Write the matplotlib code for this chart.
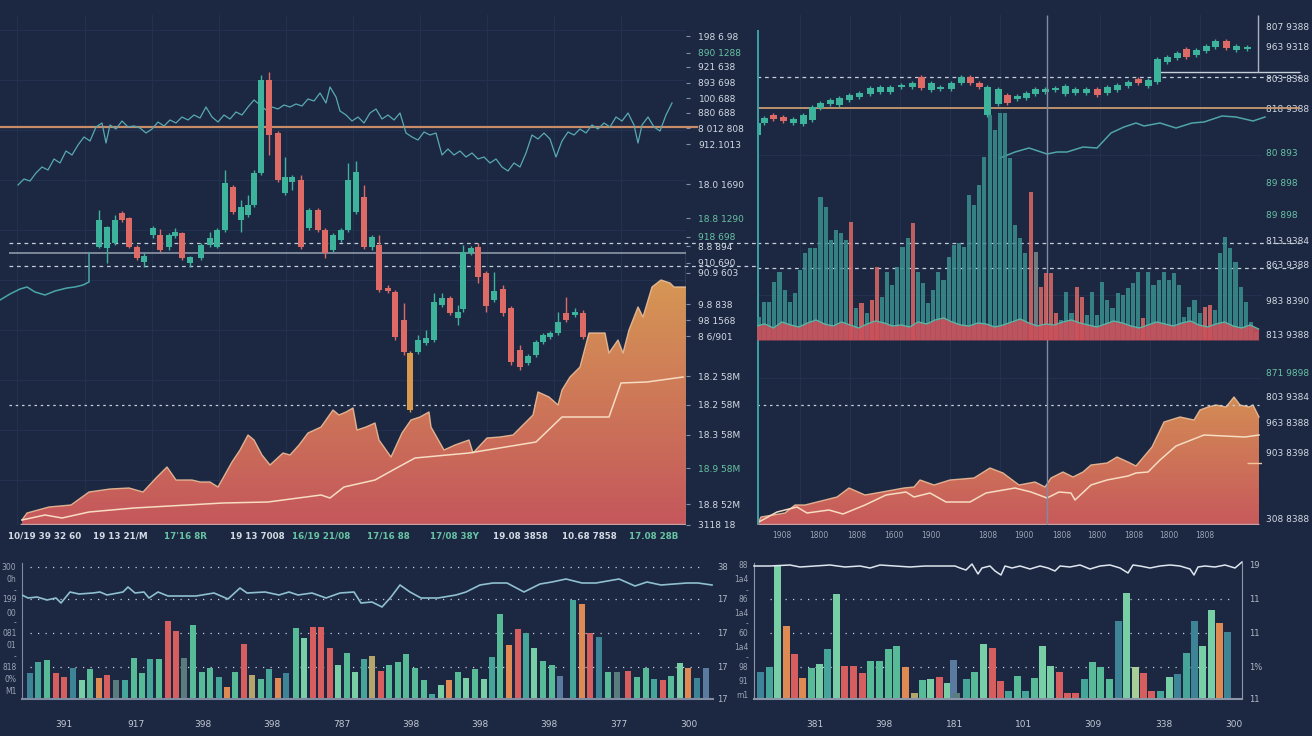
import numpy as np
import matplotlib.pyplot as plt
from matplotlib.colors import LinearSegmentedColormap
from matplotlib.patches import PathPatch

W, H = 1312, 736
BG = '#1c2742'
GRID = '#233150'
TEAL = '#3db39c'
RED = '#de6a66'
ORANGE = '#d99a4e'
TXT = '#d3dae3'
TXT_G = '#67c3a3'
DASH = '#c5cfd9'

plt.rcParams['font.family'] = ['DejaVu Sans']

# ---------------- top-left panel ----------------
tl_line_t = [18, 24, 30, 36, 42, 48, 54, 60, 66, 72, 78, 84, 90, 96, 102, 106, 110, 116, 122, 128,
             134, 140, 146, 152, 158, 164, 170, 176, 182, 188, 194, 200, 206, 212, 218, 224, 230, 236,
             242, 248, 254, 260, 266, 272, 278, 284, 290, 296, 302, 308, 314, 320, 326, 330, 336, 340,
             346, 352, 358, 364, 370, 376, 382, 388, 394, 400, 406, 412, 418, 424, 430, 436, 442, 448,
             454, 460, 466, 472, 478, 484, 490, 496, 502, 508, 514, 520, 526, 532, 538, 544, 550, 556,
             562, 568, 574, 580, 586, 592, 598, 604, 610, 616, 622, 628, 634, 638, 642, 648, 654, 660,
             666, 672]
tl_line_v = [340, 346, 344, 352, 358, 355, 366, 362, 374, 370, 380, 388, 384, 398, 402, 382, 400, 396,
             404, 398, 399, 397, 392, 396, 403, 399, 405, 402, 408, 405, 410, 407, 418, 408, 403, 410,
             406, 413, 410, 418, 425, 420, 415, 418, 416, 420, 418, 421, 419, 426, 424, 432, 422, 438,
             428, 414, 410, 404, 408, 402, 412, 416, 406, 410, 405, 412, 392, 388, 385, 393, 390, 392,
             370, 376, 370, 374, 368, 372, 366, 368, 362, 366, 358, 354, 362, 358, 372, 390, 386, 392,
             386, 368, 384, 393, 390, 396, 392, 400, 396, 402, 398, 408, 404, 412, 400, 382, 400, 408,
             398, 394, 410, 422]

tl_low_t = [0, 10, 20, 27, 35, 45, 55, 67, 75, 83, 89, 89]
tl_low_v = [225, 231, 236, 238, 233, 230, 234, 237, 238, 240, 243, 272]

tl_c_t = [99, 107, 115, 122, 129, 137, 144, 153, 160, 169, 175, 182, 190, 201, 210, 217, 225, 233,
          241, 248, 254, 261, 269, 278, 285, 292, 301, 309, 318, 325, 333, 341, 348, 356, 364, 372,
          379, 388, 395, 404, 410, 418, 426, 434, 442, 450, 458, 463, 471, 478, 486, 494, 503, 511,
          520, 528, 536, 543, 550, 558, 566, 575, 583]
tl_c_open = [278, 277, 282, 312, 307, 278, 263, 290, 290, 278, 289, 292, 262, 267, 280, 278, 295, 338,
             305, 310, 320, 352, 445, 392, 332, 343, 345, 297, 315, 295, 275, 285, 295, 313, 328, 278,
             280, 237, 233, 205, 172, 173, 182, 185, 220, 227, 207, 216, 272, 278, 252, 225, 236, 217,
             175, 162, 170, 183, 188, 192, 212, 210, 212]
tl_c_close = [305, 298, 305, 305, 278, 267, 269, 297, 275, 290, 293, 267, 268, 280, 287, 295, 342, 313,
              318, 320, 352, 445, 390, 345, 348, 348, 278, 315, 295, 272, 290, 295, 345, 353, 278, 288,
              235, 234, 188, 173, 115, 185, 187, 223, 227, 212, 213, 273, 277, 248, 219, 234, 212, 163,
              158, 169, 183, 190, 192, 203, 205, 213, 188]
tl_c_high = [315, 299, 310, 314, 308, 280, 272, 299, 296, 292, 297, 293, 269, 282, 293, 297, 355, 340,
             325, 330, 355, 450, 453, 394, 368, 350, 350, 317, 317, 297, 292, 297, 362, 364, 340, 290,
             290, 240, 235, 222, 174, 190, 195, 232, 232, 229, 220, 280, 279, 282, 254, 253, 240, 219,
             180, 171, 185, 192, 194, 213, 228, 217, 215]
tl_c_low = [277, 262, 280, 303, 277, 265, 258, 287, 273, 275, 287, 265, 258, 265, 278, 277, 293, 311,
            293, 308, 318, 350, 370, 343, 330, 335, 276, 295, 293, 267, 273, 283, 293, 311, 276, 275,
            233, 232, 185, 170, 113, 171, 180, 183, 218, 210, 200, 213, 270, 242, 213, 223, 209, 160,
            155, 160, 168, 181, 186, 190, 203, 208, 186]
tl_special = [40]

tl_area_t = [22, 27, 49, 71, 89, 110, 129, 143, 156, 167, 176, 192, 200, 210, 218, 232, 240, 248, 254,
             262, 270, 283, 290, 299, 308, 321, 333, 339, 346, 353, 357, 366, 375, 379, 391, 402, 411,
             420, 429, 431, 444, 455, 469, 473, 487, 500, 513, 533, 538, 549, 558, 562, 570, 580, 589,
             605, 609, 618, 623, 629, 638, 643, 652, 661, 670, 674, 683, 686]
tl_area_v = [5, 12, 18, 20, 33, 36, 37, 33, 47, 58, 45, 45, 43, 43, 38, 63, 75, 90, 85, 70, 60, 72, 70,
             80, 92, 98, 115, 110, 113, 117, 95, 98, 102, 85, 68, 92, 105, 108, 113, 98, 75, 80, 85, 72,
             87, 88, 90, 110, 133, 128, 120, 135, 148, 158, 192, 192, 172, 185, 172, 195, 218, 208, 238,
             245, 242, 238, 238, 238]
tl_avg_t = [22, 45, 62, 89, 134, 223, 268, 321, 330, 344, 375, 393, 415, 469, 536, 562, 609, 621, 647, 683]
tl_avg_v = [5, 10, 7, 13, 17, 22, 23, 30, 27, 38, 45, 55, 67, 72, 83, 108, 108, 142, 143, 148]

tl_ytick_v = [489, 472, 458, 442, 427, 412, 397, 381, 341, 307, 288, 279, 262, 252, 221, 205, 189,
              149, 120, 90, 57, 21, 0]
tl_ytick_txt = ['198 6.98', '890 1288', '921 638', '893 698', '100.688', '880 688', '8 012 808',
                '912.1013', '18.0 1690', '18.8 1290', '918 698', '8.8 894', '910 690', '90.9 603',
                '9.8 838', '98 1568', '8 6/901', '18.2 58M', '18.2 58M', '18.3 58M', '18.9 58M',
                '18.8 52M', '3118 18']
tl_ytick_green = [1, 9, 10, 20]
tl_xtick_t = [45, 120, 185, 257, 321, 388, 455, 520, 589, 654]
tl_xtick_txt = ['10/19 39 32 60', '19 13 21/M', "17'16 8R", '19 13 7008', '16/19 21/08',
                '17/16 88', '17/08 38Y', '19.08 3858', '10.68 7858', '17.08 28B']
tl_xtick_green = [2, 4, 5, 6, 9]

# ---------------- top-right panel ----------------
tr_c_t = [757, 764, 773, 783, 793, 803, 812, 820, 830, 839, 849, 859, 870, 880, 890, 901, 912, 921,
          931, 940, 951, 961, 970, 979, 987, 998, 1007, 1017, 1026, 1035, 1045, 1055, 1065, 1075,
          1086, 1097, 1107, 1117, 1128, 1138, 1148, 1157, 1167, 1177, 1186, 1196, 1206, 1215, 1226,
          1236, 1247]
tr_c_open = [390, 402, 410, 408, 402, 401, 405, 417, 421, 420, 425, 428, 431, 433, 433, 438, 438, 448,
             435, 436, 436, 442, 448, 442, 410, 421, 430, 426, 427, 431, 433, 435, 431, 432, 432, 436,
             432, 435, 439, 446, 439, 443, 463, 467, 476, 470, 474, 478, 484, 475, 476]
tr_c_close = [402, 407, 406, 404, 406, 410, 418, 422, 425, 427, 430, 432, 437, 438, 438, 440, 442, 437,
              442, 438, 442, 448, 442, 438, 438, 436, 422, 429, 432, 436, 436, 437, 439, 436, 436, 430,
              438, 440, 443, 442, 445, 466, 468, 472, 468, 475, 479, 484, 477, 479, 478]

tr_line_t = [1000, 1015, 1029, 1047, 1057, 1067, 1083, 1097, 1111, 1124, 1136, 1144, 1160, 1176, 1192,
             1204, 1222, 1236, 1253, 1265]
tr_line_v = [367, 373, 377, 371, 373, 373, 378, 377, 392, 398, 402, 399, 402, 397, 402, 403, 409, 408,
             404, 408]

vol_h = [23, 38, 38, 58, 68, 50, 38, 47, 70, 87, 92, 92, 143, 133, 100, 110, 107, 100, 118, 32,
         37, 27, 40, 73, 43, 68, 55, 73, 93, 102, 117, 68, 57, 37, 50, 68, 60, 83, 95, 97,
         93, 145, 135, 155, 183, 225, 210, 227, 227, 182, 115, 102, 87, 148, 88, 53, 67, 67, 27, 20,
         48, 27, 53, 43, 25, 48, 25, 58, 40, 32, 47, 45, 52, 57, 68, 22, 68, 55, 60, 68,
         60, 67, 55, 23, 33, 40, 27, 33, 35, 30, 87, 103, 92, 78, 53, 38, 18, 8]
vol_down = [18, 20, 22, 23, 30, 53, 55, 56, 57, 58, 62, 63, 75, 87, 88]
vol_flat = [54]
vol_band = [14, 16, 12, 18, 15, 13, 17, 20, 16, 14, 18, 15, 12, 16, 19, 17, 14, 15, 13, 18, 16, 20,
            22, 18, 15, 14, 17, 16, 13, 15, 18, 21, 17, 14, 16, 15, 18, 20, 17, 15, 13, 16, 19, 17,
            14, 12, 15, 18, 16, 14, 17, 19, 15, 13, 16, 18, 14, 12, 15, 11]

mr_area_t = [757, 761, 773, 785, 795, 805, 825, 837, 849, 865, 882, 904, 914, 920, 934, 950, 974, 990,
             1003, 1019, 1035, 1045, 1051, 1063, 1073, 1083, 1091, 1107, 1117, 1128, 1136, 1152, 1164,
             1180, 1194, 1200, 1208, 1216, 1226, 1234, 1240, 1249, 1253, 1259]
mr_area_v = [0, 8, 10, 12, 20, 20, 25, 28, 37, 30, 33, 37, 38, 45, 40, 45, 47, 57, 52, 40, 43, 38, 47,
             53, 48, 53, 60, 62, 68, 63, 59, 78, 103, 108, 105, 115, 118, 120, 118, 128, 120, 118, 120, 108]
mr_avg_t = [757, 777, 797, 807, 829, 843, 865, 886, 906, 914, 930, 946, 970, 986, 1015, 1031, 1047,
            1059, 1071, 1075, 1091, 1107, 1128, 1136, 1148, 1160, 1176, 1204, 1224, 1245, 1259]
mr_avg_v = [2, 13, 18, 12, 15, 11, 20, 30, 33, 28, 32, 23, 23, 32, 37, 33, 27, 33, 32, 25, 40, 45, 49,
            52, 53, 65, 79, 90, 89, 88, 90]

tr_ytick_v = [499, 479, 447, 417, 373, 342, 311, 284, 260, 225, 190, 153, 128, 102, 72, 7]
tr_ytick_txt = ['807 9388', '963 9318', '803 8388', '818 9388', '80 893', '89 898', '89 898',
                '813 9384', '863 9388', '983 8390', '813 9388', '871 9898', '803 9384', '963 8388',
                '903 8398', '308 8388']
tr_ytick_green = [4, 5, 6, 11]
tr_xtick_t = [782, 819, 857, 894, 931, 988, 1024, 1062, 1097, 1134, 1169, 1205]
tr_xtick_txt = ['1908', '1800', '1808', '1600', '1900', '1808', '1900', '1808', '1800', '1808',
                '1800', '1808']

# ---------------- bottom-left panel ----------------
bl_line_t = [22, 28, 37, 47, 56, 61, 70, 79, 93, 100, 107, 123, 128, 135, 144, 149, 158, 168, 196,
             214, 228, 240, 247, 265, 279, 289, 298, 312, 326, 340, 354, 361, 372, 382, 391, 400, 410,
             421, 438, 456, 466, 480, 493, 507, 524, 540, 552, 566, 582, 596, 619, 635, 647, 661, 687,
             698, 712]
bl_line_v = [104, 101, 102, 99, 101, 96, 107, 105, 106, 107, 104, 107, 112, 106, 107, 101, 107, 103,
             103, 106, 100, 111, 106, 107, 104, 107, 104, 106, 101, 106, 107, 96, 97, 92, 102, 114,
             107, 101, 101, 104, 107, 114, 116, 116, 107, 115, 117, 120, 116, 116, 120, 113, 117, 114,
             116, 116, 114]
bl_bar_t = [30, 38, 47, 56, 64, 73, 82, 90, 99, 107, 116, 125, 134, 142, 150, 159, 168, 176, 184, 193,
            202, 210, 219, 227, 235, 244, 252, 261, 269, 278, 286, 296, 304, 313, 321, 330, 338, 347,
            355, 364, 372, 381, 389, 398, 406, 415, 424, 432, 441, 449, 458, 466, 475, 484, 492, 500,
            509, 518, 526, 534, 543, 552, 560, 573, 582, 590, 599, 608, 617, 628, 637, 646, 654, 663,
            671, 680, 688, 697, 706]
bl_bar_h = [26, 37, 39, 26, 22, 31, 19, 30, 21, 24, 19, 19, 41, 26, 40, 40, 78, 68, 41, 74, 27, 31,
            22, 12, 27, 55, 24, 20, 30, 21, 26, 71, 61, 72, 72, 51, 34, 46, 27, 40, 43, 28, 34, 37,
            45, 31, 19, 5, 14, 19, 27, 21, 30, 20, 42, 85, 54, 70, 66, 51, 38, 34, 23, 99, 95, 66, 62,
            27, 27, 28, 22, 31, 20, 19, 23, 36, 31, 21, 31]
bl_bar_c = ['st', 't', 'g', 'r', 'r', 'st', 'lg', 'g', 'o', 'r', 'gt', 't', 'g', 'g', 't', 'g', 'r',
            'r', 'gt', 'g', 'g', 'g', 't', 'o', 'g', 'r', 'tan', 'g', 't', 'o', 'st', 'g', 'lg', 'r',
            'r', 'r', 'lg', 'g', 'lg', 't', 'tan', 'r', 'g', 'g', 'g', 'g', 'g', 't', 'lg', 'o', 'g',
            'lg', 'g', 'lg', 't', 'g', 'o', 'r', 't', 'lg', 'g', 'g', 'sb', 't', 'o', 'r', 'st', 'g',
            'gt', 'r', 'g', 'g', 't', 'r', 'g', 'lg', 'o', 'st', 'sb']
bl_ytick_v = [132, 121, 109, 100, 87, 77, 66, 54, 43, 32, 21, 9]
bl_ytick_txt = ['300', '0h', '-', '199', '00', '-', '081', '01', '-', '818', '0%', 'M1']
bl_rtick_v = [132, 100, 66, 32, 1]
bl_rtick_txt = ['38', '17', '17', '17', '17']
bl_xtick_t = [64, 136, 203, 272, 342, 411, 480, 549, 619, 689]
bl_xtick_txt = ['391', '917', '398', '398', '787', '398', '398', '398', '377', '300']

# ---------------- bottom-right panel ----------------
br_line_t = [754, 770, 790, 800, 815, 830, 845, 860, 870, 880, 895, 910, 925, 940, 955, 960, 966, 972,
             978, 982, 990, 995, 1001, 1005, 1012, 1020, 1030, 1040, 1048, 1055, 1060, 1070, 1080,
             1090, 1100, 1110, 1120, 1128, 1133, 1140, 1150, 1160, 1170, 1180, 1190, 1194, 1198, 1205,
             1215, 1225, 1235, 1242]
br_line_v = [133, 133, 134, 132, 133, 134, 132, 133, 131, 134, 133, 132, 133, 133, 133, 131, 129, 135,
             125, 131, 133, 128, 124, 133, 131, 133, 130, 133, 131, 128, 133, 132, 134, 130, 133, 134,
             131, 126, 134, 133, 131, 133, 134, 133, 130, 124, 132, 133, 132, 134, 131, 137]
br_bar_t = [760, 769, 777, 786, 794, 802, 811, 819, 827, 836, 844, 853, 862, 870, 879, 888, 896, 905,
            914, 922, 930, 939, 947, 953, 956, 966, 974, 983, 992, 1000, 1008, 1017, 1025, 1034, 1042,
            1050, 1059, 1067, 1075, 1084, 1092, 1100, 1109, 1118, 1126, 1135, 1143, 1151, 1160, 1169,
            1177, 1186, 1194, 1202, 1211, 1219, 1227]
br_bar_h = [27, 32, 134, 73, 45, 21, 31, 35, 50, 105, 33, 33, 26, 38, 38, 50, 53, 32, 6, 19, 20, 22,
            16, 39, 6, 20, 27, 55, 51, 18, 8, 23, 8, 21, 53, 33, 27, 6, 6, 20, 37, 32, 20, 78, 106, 32,
            26, 8, 8, 22, 25, 46, 78, 53, 89, 76, 67]
br_bar_c = ['st', 't', 'lg', 'o', 'r', 'o', 'g', 'lg', 't', 'lg', 'r', 'r', 'r', 'g', 'g', 'g', 'g',
            'o', 'tan', 'g', 'lg', 'r', 'lg', 'sb', 'gt', 't', 'g', 'lg', 'r', 'r', 't', 'g', 't', 'g',
            'lg', 'lg', 'r', 'r', 'r', 't', 'g', 'g', 'g', 'st', 'lg', 'ylg', 'r', 'r', 't', 'lg', 'st',
            't', 'st', 'lg', 'lg', 'o', 'st']
br_ytick_v = [134, 121, 109, 101, 87, 76, 66, 53, 42, 32, 19, 4]
br_ytick_txt = ['88', '1a4', '-', '86', '1a4', '-', '60', '1a4', '-', '98', '91', 'm1']
br_rtick_v = [134, 101, 67, 32, 1]
br_rtick_txt = ['19', '11', '11', '1%', '11']
br_xtick_t = [815, 884, 955, 1024, 1093, 1164, 1234]
br_xtick_txt = ['381', '398', '181', '101', '309', '338', '300']

BAR_COLORS = {'st': '#3d8496', 't': '#45a599', 'g': '#57bb98', 'lg': '#78cfa5', 'r': '#d65e5e',
              'o': '#df8a52', 'tan': '#b3a56c', 'sb': '#5a7aa0', 'gt': '#5a7c7c', 'ylg': '#a8cf98'}

fig = plt.figure(figsize=(W / 100, H / 100), dpi=100, facecolor=BG)


def px_axes(x0, y0, x1, y1):
    ax = fig.add_axes([x0 / W, 1 - y1 / H, (x1 - x0) / W, (y1 - y0) / H])
    ax.set_facecolor('none')
    for s in ax.spines.values():
        s.set_visible(False)
    ax.set_xticks([])
    ax.set_yticks([])
    return ax


def gradient_area(ax, t, v, top, bot, vmax):
    coll = ax.fill_between(t, v, 0, color='none', lw=0)
    patch = PathPatch(coll.get_paths()[0], transform=ax.transData, facecolor='none', edgecolor='none')
    ax.add_patch(patch)
    cmap = LinearSegmentedColormap.from_list('grad', [bot, top])
    grad = np.linspace(0, 1, 256).reshape(-1, 1)
    im = ax.imshow(grad, cmap=cmap, extent=[min(t), max(t), 0, vmax], origin='lower',
                   aspect='auto', zorder=2, interpolation='bilinear')
    im.set_clip_path(patch)


def draw_candles(ax, t, o, c, hi, lo, width, special=()):
    for i in range(len(t)):
        col = TEAL if c[i] >= o[i] else RED
        if i in special:
            col = ORANGE
        ax.vlines(t[i], lo[i], hi[i], color=col, lw=1, zorder=5)
        ax.bar(t[i], c[i] - o[i], bottom=o[i], width=width, color=col, zorder=6)


def color_labels(labels, green_idx, base=TXT):
    for i, lab in enumerate(labels):
        lab.set_color(TXT_G if i in green_idx else base)


# ---- top-left ----
ax = px_axes(0, 15, 686, 525)
for gx in [17, 85, 152, 219, 286, 353, 420, 487, 554, 621]:
    ax.axvline(gx, color=GRID, lw=0.8, zorder=0)
for gy in [45, 95, 145, 195, 245, 295, 345, 395, 445, 495]:
    ax.axhline(gy, color=GRID, lw=0.8, zorder=0)
ax.hlines(120, 9, 540, color=DASH, lw=0.9, linestyles=(0, (2, 3)), zorder=1)
gradient_area(ax, tl_area_t, tl_area_v, (0.84, 0.59, 0.33), (0.77, 0.34, 0.36), 245)
ax.plot(tl_area_t, tl_area_v, color='#f0c49c', lw=1, alpha=0.85, zorder=3)
ax.plot(tl_avg_t, tl_avg_v, color='#f6dcc2', lw=1.1, zorder=3)
ax.hlines(1, 20, 686, color='#c8a0a0', lw=1, zorder=3)
ax.plot(tl_line_t, tl_line_v, color='#58aab2', lw=0.9, zorder=4)
ax.plot(tl_low_t, tl_low_v, color='#4aa7a8', lw=1.1, zorder=4)
ax.hlines(272, 9, 686, color='#8c99a8', lw=1.2, zorder=3)
ax.hlines([282, 259], 9, 757, color=DASH, lw=0.9, linestyles=(0, (3, 3)), zorder=3, clip_on=False)
ax.hlines(398, 0, 698, color='#c98c68', lw=1.6, zorder=3, clip_on=False)
ax.vlines(686, 0, 275, color='#8090a5', lw=1, zorder=3)
draw_candles(ax, tl_c_t, tl_c_open, tl_c_close, tl_c_high, tl_c_low, 6, tl_special)
ax.set_xlim(0, 686)
ax.set_ylim(0, 510)
ax.yaxis.tick_right()
ax.set_yticks(tl_ytick_v)
ax.set_yticklabels(tl_ytick_txt, fontsize=6.5)
ax.tick_params(axis='y', length=3, color='#8090a5', pad=6)
color_labels(ax.get_yticklabels(), tl_ytick_green)
ax.set_xticks(tl_xtick_t)
ax.set_xticklabels(tl_xtick_txt, fontsize=6.3, fontweight='bold')
ax.tick_params(axis='x', length=0, pad=5)
color_labels(ax.get_xticklabels(), tl_xtick_green)

# ---- top-right ----
ax2 = px_axes(757, 15, 1262, 525)
for gx in [800, 850, 900, 950, 1000, 1100, 1150, 1200]:
    ax2.axvline(gx, color=GRID, lw=0.8, zorder=0)
for gy in [147, 230, 370]:
    ax2.axhline(gy, color=GRID, lw=0.8, zorder=0)
gradient_area(ax2, mr_area_t, mr_area_v, (0.83, 0.55, 0.33), (0.78, 0.35, 0.36), 128)
ax2.plot(mr_area_t, mr_area_v, color='#f0c49c', lw=1, alpha=0.85, zorder=3)
ax2.plot(mr_avg_t, mr_avg_v, color='#f6dcc2', lw=1.1, zorder=3)
ax2.hlines(1, 757, 1259, color='#c8a0a0', lw=1, zorder=3)
ax2.hlines(62, 1247, 1262, color='#f0c49c', lw=1, zorder=3)
ax2.hlines(120, 757, 1259, color=DASH, lw=0.9, linestyles=(0, (2, 3)), zorder=3)
ax2.hlines([282, 257], 757, 1300, color=DASH, lw=0.9, linestyles=(0, (3, 3)), zorder=7, clip_on=False)
ax2.hlines(448, 757, 1300, color=DASH, lw=0.9, linestyles=(0, (3, 3)), zorder=3, clip_on=False)
ax2.hlines(417, 757, 1300, color='#c99a70', lw=1.3, zorder=3, clip_on=False)
ax2.hlines(453, 1157, 1300, color='#c7d0da', lw=1, zorder=3, clip_on=False)
ax2.vlines(1258, 453, 510, color='#aab4c0', lw=1, zorder=3)
ax2.vlines(1047, 0, 510, color='#7f8ca0', lw=1, zorder=8)
ax2.vlines(757.5, 0, 495, color='#3e9fa5', lw=1.4, zorder=8)
ax2.plot(tr_line_t, tr_line_v, color='#4fa5a8', lw=1.1, zorder=4, clip_on=False)
tr_hi = [max(a, b) + 2 for a, b in zip(tr_c_open, tr_c_close)]
tr_lo = [min(a, b) - 2 for a, b in zip(tr_c_open, tr_c_close)]
draw_candles(ax2, tr_c_t, tr_c_open, tr_c_close, tr_hi, tr_lo, 7)
ax2.set_xlim(757, 1262)
ax2.set_ylim(0, 510)
ax2.yaxis.tick_right()
ax2.set_yticks(tr_ytick_v)
ax2.set_yticklabels(tr_ytick_txt, fontsize=6.5)
ax2.tick_params(axis='y', length=0, pad=3)
color_labels(ax2.get_yticklabels(), tr_ytick_green)
ax2.set_xticks(tr_xtick_t)
ax2.set_xticklabels(tr_xtick_txt, fontsize=5.5, color='#9aa6b5')
ax2.tick_params(axis='x', length=0, pad=4)

# ---- volume ----
axv = px_axes(757, 110, 1262, 340)
n = len(vol_h)
idx = np.arange(n)
vcols = [RED if i in vol_down else ('#7d8a8c' if i in vol_flat else '#3a918e') for i in idx]
axv.bar(idx, vol_h, width=0.8, color=vcols, alpha=0.85, zorder=2)
band_x = np.linspace(-0.5, n - 0.5, len(vol_band))
axv.fill_between(band_x, vol_band, 0, color='#c9505a', alpha=0.9, lw=0, zorder=3)
axv.plot(band_x, vol_band, color='#5fb3a3', lw=1, zorder=4)
step = (1256 - 759) / (n - 1)
axv.set_xlim(-2 / step, n - 1 + 6 / step)
axv.set_ylim(0, 230)

# ---- bottom-left ----
ax3 = px_axes(22, 563, 713, 699)
ax3.hlines([132, 100, 66, 32], 30, 705, color='#c8d0da', lw=0.9, linestyles=(0, (1, 5)), zorder=1)
ax3.bar(bl_bar_t, bl_bar_h, width=6.8, color=[BAR_COLORS[c] for c in bl_bar_c], zorder=2)
ax3.plot(bl_line_t, bl_line_v, color='#8fc0d0', lw=1.2, zorder=3)
ax3.spines['left'].set_visible(True)
ax3.spines['bottom'].set_visible(True)
ax3.spines['left'].set_color('#7f8ba0')
ax3.spines['bottom'].set_color('#7f8ba0')
ax3.spines['bottom'].set_linewidth(1.5)
ax3.set_xlim(22, 713)
ax3.set_ylim(0, 136)
ax3.set_yticks(bl_ytick_v)
ax3.set_yticklabels(bl_ytick_txt, fontsize=5.5, color='#9aa6b5')
ax3.tick_params(axis='y', length=0, pad=4)
ax3.set_xticks(bl_xtick_t)
ax3.set_xticklabels(bl_xtick_txt, fontsize=6.5, color='#c0c8d2')
ax3.tick_params(axis='x', length=0, pad=15)
ax3r = ax3.twinx()
ax3r.set_ylim(0, 136)
for s in ax3r.spines.values():
    s.set_visible(False)
ax3r.set_yticks(bl_rtick_v)
ax3r.set_yticklabels(bl_rtick_txt, fontsize=6, color='#b0bac6')
ax3r.tick_params(axis='y', length=0, pad=3)

# ---- bottom-right ----
ax4 = px_axes(754, 563, 1242, 699)
ax4.hlines([100, 66, 32], 770, 1235, color='#c8d0da', lw=0.9, linestyles=(0, (1, 5)), zorder=1)
ax4.bar(br_bar_t, br_bar_h, width=7, color=[BAR_COLORS[c] for c in br_bar_c], zorder=2)
ax4.plot(br_line_t, br_line_v, color='#dfe6ee', lw=1.1, zorder=3, clip_on=False)
for side in ['left', 'bottom', 'right']:
    ax4.spines[side].set_visible(True)
    ax4.spines[side].set_color('#8a96a8')
ax4.spines['bottom'].set_linewidth(1.5)
ax4.set_xlim(754, 1242)
ax4.set_ylim(0, 136)
ax4.set_yticks(br_ytick_v)
ax4.set_yticklabels(br_ytick_txt, fontsize=5.5, color='#9aa6b5')
ax4.tick_params(axis='y', length=0, pad=4)
ax4.set_xticks(br_xtick_t)
ax4.set_xticklabels(br_xtick_txt, fontsize=6.5, color='#c0c8d2')
ax4.tick_params(axis='x', length=0, pad=15)
ax4r = ax4.twinx()
ax4r.set_ylim(0, 136)
for s in ax4r.spines.values():
    s.set_visible(False)
ax4r.set_yticks(br_rtick_v)
ax4r.set_yticklabels(br_rtick_txt, fontsize=6, color='#b0bac6')
ax4r.tick_params(axis='y', length=0, pad=5)

fig.savefig('out.png', dpi=100, facecolor=BG)
